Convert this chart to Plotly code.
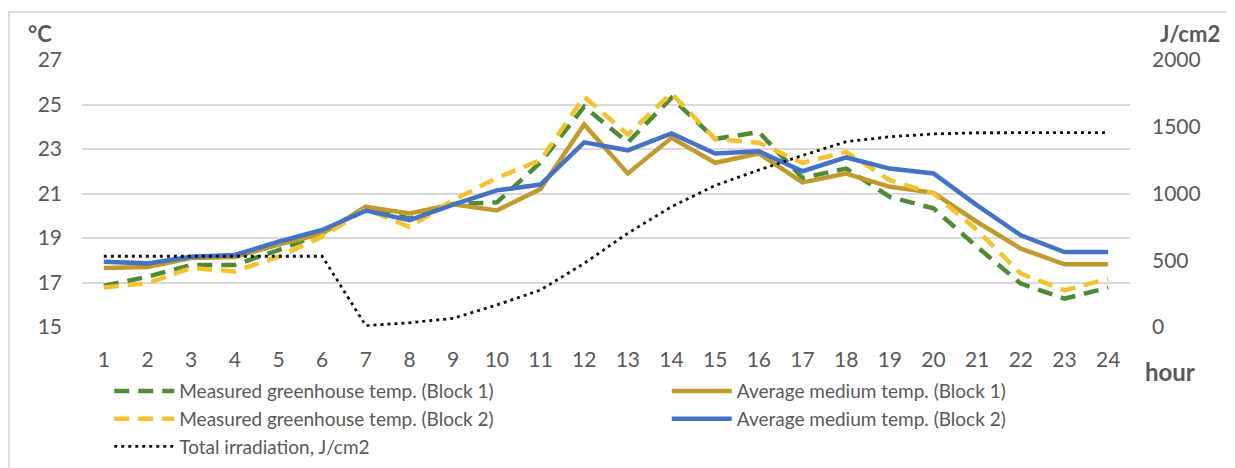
import plotly.graph_objects as go

hours = list(range(1, 25))
meas_b1 = [16.85, 17.26, 17.79, 17.79, 18.46, 19.2, 20.4, 19.87, 20.53, 20.6, 22.4, 24.9,
           23.3, 25.3, 23.45, 23.76, 21.7, 22.12, 20.85, 20.33, 18.6, 16.95, 16.27, 16.77]
meas_b2 = [16.78, 16.97, 17.65, 17.5, 18.16, 19.06, 20.3, 19.5, 20.7, 21.7, 22.5, 25.35,
           23.65, 25.5, 23.45, 23.28, 22.38, 22.87, 21.6, 21.0, 19.35, 17.4, 16.65, 17.17]
avg_b1 = [17.65, 17.7, 18.1, 18.15, 18.7, 19.2, 20.4, 20.1, 20.52, 20.24, 21.2, 24.1,
          21.9, 23.5, 22.38, 22.8, 21.5, 21.9, 21.3, 21.03, 19.72, 18.52, 17.82, 17.82]
avg_b2 = [17.93, 17.86, 18.16, 18.24, 18.83, 19.36, 20.23, 19.8, 20.5, 21.14, 21.4, 23.3,
          22.94, 23.7, 22.8, 22.9, 22.0, 22.62, 22.12, 21.9, 20.47, 19.12, 18.37, 18.37]
irradiation = [530, 530, 530, 530, 530, 530, 10, 32, 65, 165, 277, 477,
               702, 901, 1060, 1176, 1285, 1388, 1425, 1446, 1455, 1455, 1456, 1456]

names = ["Measured greenhouse temp. (Block 1)", "Average medium temp. (Block 1)",
         "Measured greenhouse temp. (Block 2)", "Average medium temp. (Block 2)",
         "Total irradiation, J/cm2"]
temp_ticks = [15, 17, 19, 21, 23, 25, 27]
irr_ticks = [0, 500, 1000, 1500, 2000]

GREEN = "#4f8a35"
GOLD = "#c09a2c"
YELLOW = "#f4c22f"
BLUE = "#4472c4"
TXT = "#595959"
FONT = "Lato"

fig = go.Figure()
fig.add_trace(go.Scatter(x=hours, y=meas_b1, name=names[0], mode="lines",
                         line=dict(color=GREEN, width=4.5, dash="15px,9px"), legend="legend"))
fig.add_trace(go.Scatter(x=hours, y=avg_b1, name=names[1], mode="lines",
                         line=dict(color=GOLD, width=4.5), legend="legend2"))
fig.add_trace(go.Scatter(x=hours, y=meas_b2, name=names[2], mode="lines",
                         line=dict(color=YELLOW, width=4.5, dash="15px,9px"), legend="legend"))
fig.add_trace(go.Scatter(x=hours, y=avg_b2, name=names[3], mode="lines",
                         line=dict(color=BLUE, width=4.5), legend="legend2"))
fig.add_trace(go.Scatter(x=hours, y=irradiation, name=names[4], mode="lines", yaxis="y2",
                         line=dict(color="#111111", width=2.8, dash="3px,4px"), legend="legend"))

fig.update_layout(
    width=1227, height=460,
    margin=dict(l=74, r=105, t=52, b=141, autoexpand=False),
    paper_bgcolor="white", plot_bgcolor="white",
    font=dict(family=FONT, size=19, color=TXT),
    showlegend=True,
    xaxis=dict(range=[0.5, 24.5], tickmode="array", tickvals=hours,
               ticktext=[str(h) for h in hours], showgrid=False, zeroline=False,
               showline=False, ticks="", ticklabelstandoff=18, automargin=False,
               tickfont=dict(size=21, color=TXT, family=FONT)),
    yaxis=dict(range=[15, 27], tickmode="array", tickvals=temp_ticks,
               showgrid=True, gridcolor="#d9d9d9", gridwidth=1.5, zeroline=False,
               showline=False, ticks="", ticklabelstandoff=19, automargin=False,
               tickfont=dict(size=21, color=TXT, family=FONT)),
    yaxis2=dict(range=[0, 2000], tickmode="array", tickvals=irr_ticks, overlaying="y",
                side="right", showgrid=False, zeroline=False, showline=False, ticks="",
                ticklabelstandoff=21, automargin=False,
                tickfont=dict(size=21, color=TXT, family=FONT)),
    legend=dict(x=0.026, y=-0.169, xanchor="left", yanchor="top", orientation="v",
                itemwidth=60, bgcolor="rgba(0,0,0,0)", tracegroupgap=0,
                font=dict(size=19, color=TXT, family=FONT)),
    legend2=dict(x=0.558, y=-0.169, xanchor="left", yanchor="top", orientation="v",
                 itemwidth=60, bgcolor="rgba(0,0,0,0)", tracegroupgap=0,
                 font=dict(size=19, color=TXT, family=FONT)),
    shapes=[dict(type="rect", xref="paper", yref="paper", x0=-0.0697, x1=1.2,
                 y0=-0.7, y1=1.18, line=dict(color="#d4d4d4", width=1.5), layer="below")],
    annotations=[
        dict(text="<b>°C</b>", xref="paper", yref="paper", x=-0.040, y=1.099,
             xanchor="center", yanchor="middle", showarrow=False,
             font=dict(size=22, color=TXT, family=FONT)),
        dict(text="<b>J/cm2</b>", xref="paper", yref="paper", x=1.0573, y=1.098,
             xanchor="center", yanchor="middle", showarrow=False,
             font=dict(size=22, color=TXT, family=FONT)),
        dict(text="<b>hour</b>", xref="paper", yref="paper", x=1.012, y=-0.1685,
             xanchor="left", yanchor="middle", showarrow=False,
             font=dict(size=24, color=TXT, family=FONT)),
    ],
)

fig.write_html("out.html")
